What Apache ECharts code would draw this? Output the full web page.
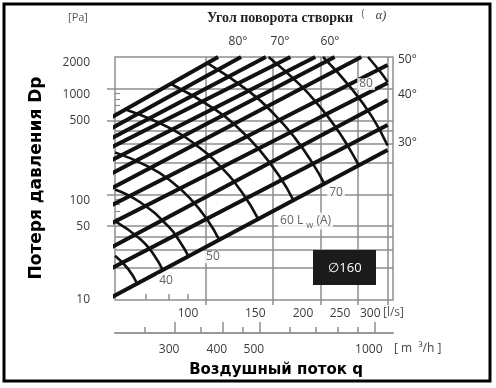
<!DOCTYPE html>
<html><head><meta charset="utf-8">
<script src="https://cdn.jsdelivr.net/npm/echarts@6/dist/echarts.min.js"></script>
<style>html,body{margin:0;padding:0;background:#fff}#c{width:496px;height:388px}</style>
</head><body><div id="c"></div>
<script>
// ---- axis extents and tick values ----
const flowMinLs = 58, flowMaxLs = 310;          // l/s
const m3hPerLs = 3.6;
const pressureMin = 10, pressureMax = 2000;      // Pa
const flowTicksLs = [100, 150, 200, 250, 300];
const flowMinorLs = [70, 80, 90];
const flowTicksM3h = [300, 400, 500, 1000];
const flowMinorM3h = [250, 350, 450, 600, 700, 800, 900];
const pressureLabelsUpper = [100, 1000, 2000];
const pressureLabelsLower = [10, 50, 500];
const pressureOuterTicks = [50, 100, 500, 1000];
const pressureGrid = [20, 30, 40, 50, 100, 200, 300, 400, 500, 1000];
const pressureMinor = [60, 70, 80, 90, 600, 700, 800, 900];

// ---- damper blade position lines: [q l/s, dp Pa] ----
const damper1 = [[57, 10.7], [300, 263]];
const damper2 = [[57, 20.1], [300, 454]];
const damper3 = [[57, 31.8], [300, 783]];
const damper4 = [[57, 53.6], [300, 1135]];
const damper5 = [[57, 79.4], [300, 1680]];
const damper6 = [[57, 115], [256, 2000]];
const damper7 = [[57, 159], [218, 2000]];
const damper8 = [[57, 212], [194, 2000]];
const damper9 = [[57, 281], [167, 2000]];
const damper10 = [[57, 342], [144, 2000]];
const damper11 = [[57, 425], [124, 2000]];
const damper12 = [[57, 541], [108, 2000]];

// ---- sound power level curves Lw(A): [q l/s, dp Pa] ----
const lw35 = [[58, 26.3], [62.7, 19.8], [66.5, 14.0]];
const lw40 = [[58, 55.9], [67.5, 37.9], [73.0, 27.4], [77.6, 18.8]];
const lw45 = [[58, 111.5], [67.5, 84.3], [79.9, 50.0], [85.8, 35.6], [90.6, 25.4]];
const lw50 = [[58, 250], [71.6, 180.5], [81.8, 131], [91.2, 91.6], [101.0, 58.2], [109.0, 36.5]];
const lw55 = [[62.3, 630], [80.8, 424], [95.1, 288], [109.3, 185], [124.8, 104], [137.8, 57.6]];
const lw60 = [[81.3, 1110], [106.0, 639], [123.3, 409], [139.1, 260], [156.0, 150], [170.4, 87]];
const lw65 = [[101.0, 1759], [130.9, 930], [152.2, 564], [171.7, 341], [190.3, 201], [205.2, 125]];
const lw70 = [[146.4, 2000], [177.0, 1089], [199.7, 672], [218.7, 440], [236.4, 285], [252.5, 187]];
const lw75 = [[203.3, 2000], [239.3, 1044], [273.3, 542], [300, 290]];
const lw80 = [[266.7, 2000], [288.4, 1417], [300, 1160]];

// ---- curve labels ----
const soundLabelText = ['40', '50', '60', '70', '80'];
const soundLabelPos = [[78.9, 15.3], [104.7, 25.5], [183, 56.0], [219.9, 103], [263.6, 1110]];

const damperLines = [damper1, damper2, damper3, damper4, damper5, damper6,
  damper7, damper8, damper9, damper10, damper11, damper12];
const soundArcs = [lw35, lw40, lw45, lw50, lw55, lw60, lw65, lw70, lw75, lw80];

const GRID = '#8e8e8e';
const tickFont = { color: '#3c3c3c', fontSize: 12, fontFamily: 'Open Sans' };
const fmt = v => String(Math.round(v));

const series = [];
damperLines.forEach(d => series.push({
  type: 'line', data: d, symbol: 'none', silent: true, clip: false, z: 3,
  lineStyle: { color: '#111', width: 4 }
}));
soundArcs.forEach(a => series.push({
  type: 'line', data: a, symbol: 'none', smooth: true, silent: true, clip: false, z: 4,
  lineStyle: { color: '#111', width: 2.6 }
}));
series.push({
  type: 'scatter', symbolSize: 0, silent: true, clip: false, z: 10,
  data: soundLabelText.map((t, i) => ({ name: t, value: soundLabelPos[i] })),
  label: {
    show: true, position: 'inside', backgroundColor: '#fff', padding: [0, 2],
    color: '#3a3a3a', fontSize: 12, fontFamily: 'Open Sans',
    formatter: p => p.name === '60' ? '60 L {sub|w} (A)' : p.name,
    rich: { sub: { fontSize: 9, color: '#3a3a3a', fontFamily: 'Open Sans', padding: [8, 0, 0, 0] } }
  }
});

const logX = (extra) => Object.assign({ type: 'log', logBase: 10, min: flowMinLs, max: flowMaxLs, position: 'bottom',
  axisLine: { show: false }, axisLabel: { show: false }, splitLine: { show: false }, axisTick: { show: false } }, extra);
const logXm3h = (extra) => Object.assign({ type: 'log', logBase: 10, min: flowMinLs * m3hPerLs, max: flowMaxLs * m3hPerLs,
  position: 'bottom', offset: 33,
  axisLine: { show: false }, axisLabel: { show: false }, splitLine: { show: false }, axisTick: { show: false } }, extra);
const logY = (extra) => Object.assign({ type: 'log', logBase: 10, min: pressureMin, max: pressureMax, position: 'left',
  axisLine: { show: false }, axisLabel: { show: false }, splitLine: { show: false }, axisTick: { show: false } }, extra);

const option = {
  animation: false,
  backgroundColor: '#fff',
  grid: { left: 115, right: 103, top: 57, bottom: 88, show: true, borderColor: GRID, borderWidth: 1.5, backgroundColor: 'transparent' },
  xAxis: [
    logX({
      axisTick: { show: true, customValues: flowTicksLs, inside: false, length: 5, lineStyle: { color: GRID, width: 1.5 } },
      axisLabel: Object.assign({ show: true, customValues: flowTicksLs, formatter: fmt, align: 'right', padding: [0, 7, 0, 0], margin: 8 }, tickFont),
      splitLine: { show: true, lineStyle: { color: GRID, width: 1.5 } }
    }),
    logX({ axisTick: { show: true, inside: true, customValues: flowMinorLs, length: 6, lineStyle: { color: GRID, width: 1.5 } } }),
    logXm3h({
      axisLine: { show: true, lineStyle: { color: '#9a9a9a', width: 2 } },
      axisTick: { show: true, inside: true, customValues: flowTicksM3h, length: 11, lineStyle: { color: GRID, width: 1.5 } },
      axisLabel: Object.assign({ show: true, customValues: flowTicksM3h, formatter: fmt, margin: 11, padding: [0, 12, 0, 0] }, tickFont)
    }),
    logXm3h({ axisTick: { show: true, inside: true, customValues: flowMinorM3h, length: 6, lineStyle: { color: GRID, width: 1.5 } } })
  ],
  yAxis: [
    logY({
      axisTick: { show: true, customValues: pressureOuterTicks, inside: false, length: 8, lineStyle: { color: GRID, width: 1.5 } },
      axisLabel: Object.assign({ show: true, customValues: pressureLabelsLower, formatter: fmt, margin: 25, verticalAlign: 'middle' }, tickFont)
    }),
    logY({ axisTick: { show: false, customValues: pressureGrid }, splitLine: { show: true, lineStyle: { color: GRID, width: 1.5 } } }),
    logY({ axisTick: { show: true, inside: true, customValues: pressureMinor, length: 5, lineStyle: { color: GRID, width: 1.2 } } }),
    logY({ axisLabel: Object.assign({ show: true, customValues: pressureLabelsUpper, formatter: fmt, margin: 25, verticalAlign: 'top', lineHeight: 12 }, tickFont) })
  ],
  series: series,
  graphic: [
    { type: 'rect', z: 100, shape: { x: 4, y: 4, width: 486, height: 377 }, style: { fill: 'none', stroke: '#000', lineWidth: 3 } },
    { type: 'text', x: 78, y: 18, style: { text: '[Pa]', fill: '#555', fontSize: 11, fontFamily: 'Open Sans', align: 'center', verticalAlign: 'middle' } },
    { type: 'text', x: 280, y: 18, style: { text: 'Угол поворота створки', fill: '#222', fontSize: 14, fontWeight: 'bold', fontFamily: 'Liberation Serif', align: 'center', verticalAlign: 'middle' } },
    { type: 'text', x: 363, y: 14, style: { text: '(', fill: '#555', fontSize: 10, fontFamily: 'Open Sans', align: 'center', verticalAlign: 'middle' } },
    { type: 'text', x: 381, y: 16, style: { text: 'α)', fill: '#333', fontSize: 12, fontStyle: 'italic', fontFamily: 'Liberation Serif', align: 'center', verticalAlign: 'middle' } },
    { type: 'text', x: 238, y: 42, style: { text: '80°', fill: '#333', fontSize: 12, fontFamily: 'Open Sans', align: 'center', verticalAlign: 'middle' } },
    { type: 'text', x: 280, y: 42, style: { text: '70°', fill: '#333', fontSize: 12, fontFamily: 'Open Sans', align: 'center', verticalAlign: 'middle' } },
    { type: 'text', x: 330, y: 42, style: { text: '60°', fill: '#333', fontSize: 12, fontFamily: 'Open Sans', align: 'center', verticalAlign: 'middle' } },
    { type: 'text', x: 398, y: 60, style: { text: '50°', fill: '#333', fontSize: 12, fontFamily: 'Open Sans', align: 'left', verticalAlign: 'middle' } },
    { type: 'text', x: 398, y: 95, style: { text: '40°', fill: '#333', fontSize: 12, fontFamily: 'Open Sans', align: 'left', verticalAlign: 'middle' } },
    { type: 'text', x: 398, y: 143, style: { text: '30°', fill: '#333', fontSize: 12, fontFamily: 'Open Sans', align: 'left', verticalAlign: 'middle' } },
    { type: 'text', x: 383, y: 313, style: { text: '[l/s]', fill: '#555', fontSize: 12, fontFamily: 'Open Sans', align: 'left', verticalAlign: 'middle' } },
    { type: 'text', x: 394, y: 349, style: { text: '[ m  ³/h ]', fill: '#444', fontSize: 12, fontFamily: 'Open Sans', align: 'left', verticalAlign: 'middle' } },
    { type: 'text', x: 276, y: 370, style: { text: 'Воздушный поток q', fill: '#000', fontSize: 15, fontWeight: 'bold', fontFamily: 'DejaVu Sans', align: 'center', verticalAlign: 'middle' } },
    { type: 'text', x: 37, y: 178, rotation: Math.PI / 2, style: { text: 'Потеря давления Dp', fill: '#000', fontSize: 17, fontWeight: 'bold', fontFamily: 'DejaVu Sans', align: 'center', verticalAlign: 'middle' } },
    { type: 'rect', z: 50, shape: { x: 313, y: 250, width: 63, height: 35 }, style: { fill: '#1b1b1b' } },
    { type: 'text', z: 51, x: 345, y: 268, style: { text: '∅160', fill: '#fff', fontSize: 13, fontFamily: 'Open Sans', align: 'center', verticalAlign: 'middle' } }
  ]
};
const chart = echarts.init(document.getElementById('c'));
chart.setOption(option);
</script>
</body></html>
